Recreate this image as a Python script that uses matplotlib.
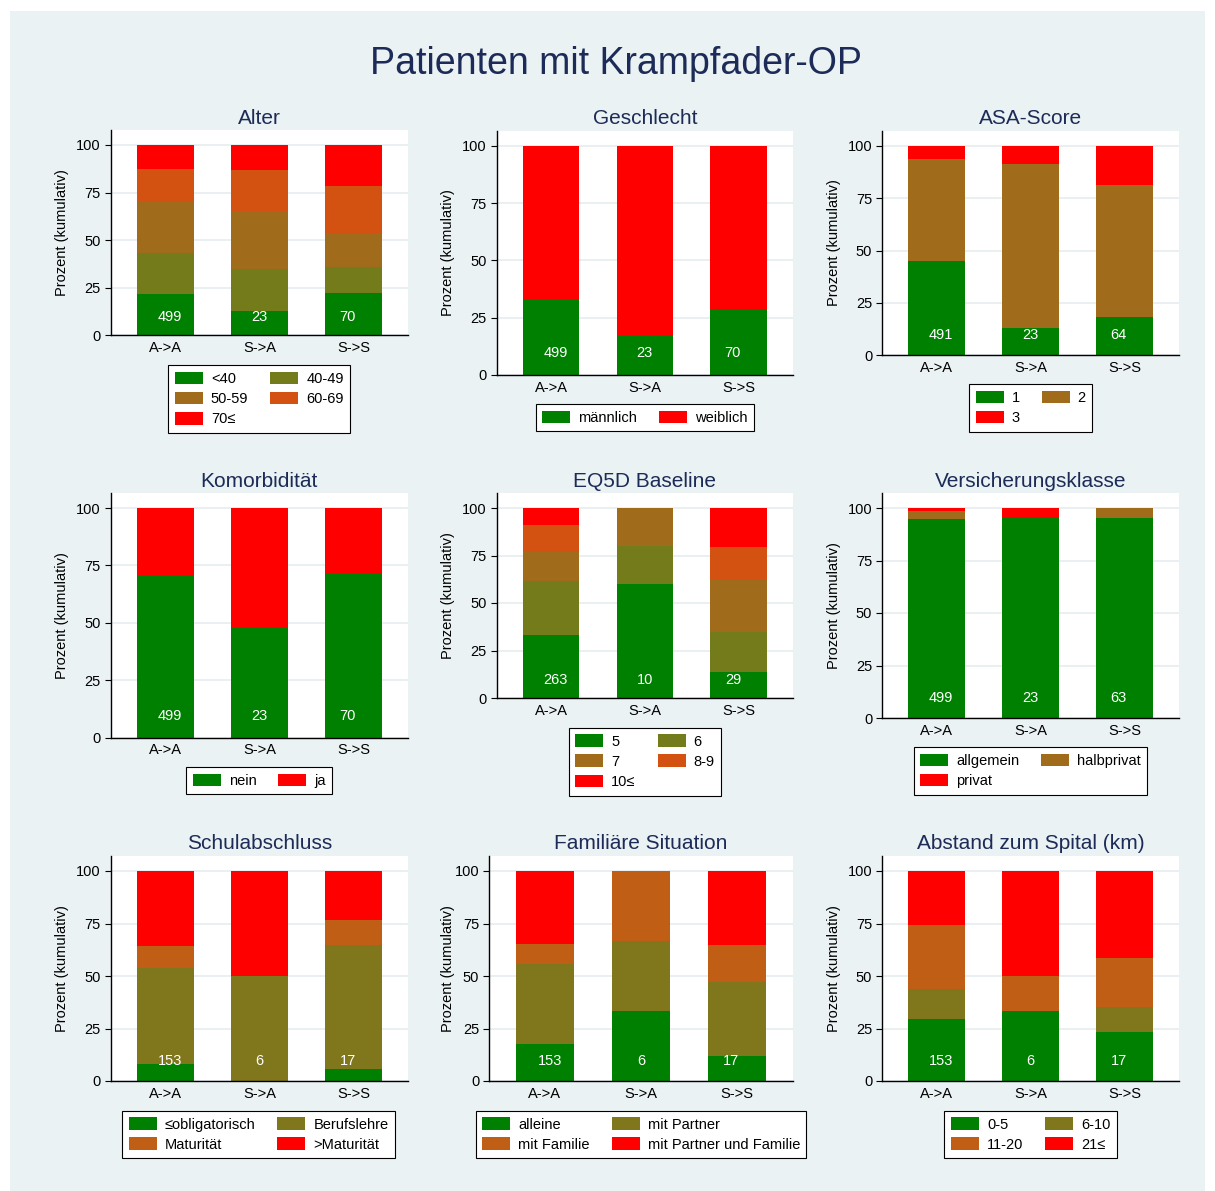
import matplotlib
matplotlib.use('Agg')
import matplotlib.pyplot as plt
from matplotlib.patches import Rectangle
import numpy as np

plt.rcParams['font.family'] = ['Liberation Sans', 'DejaVu Sans']

# ---------------- data ----------------
groups = ['A->A', 'S->A', 'S->S']

alter_labels = ['<40', '40-49', '50-59', '60-69', '70≤']
alter_pct = [[21.8, 13.0, 22.3], [21.4, 21.8, 13.4], [27.3, 30.4, 18.1],
             [16.7, 21.8, 24.4], [12.8, 13.0, 21.8]]
alter_n = [499, 23, 70]

geschlecht_labels = ['männlich', 'weiblich']
geschlecht_pct = [[33.1, 17.4, 28.6], [66.9, 82.6, 71.4]]
geschlecht_n = [499, 23, 70]

asa_labels = ['1', '2', '3']
asa_pct = [[44.9, 13.0, 18.3], [48.6, 78.3, 62.8], [6.5, 8.7, 18.9]]
asa_n = [491, 23, 64]

komorb_labels = ['nein', 'ja']
komorb_pct = [[70.9, 47.8, 71.4], [29.1, 52.2, 28.6]]
komorb_n = [499, 23, 70]

eq5d_labels = ['5', '6', '7', '8-9', '10≤']
eq5d_pct = [[33.2, 60.0, 13.8], [28.4, 20.0, 20.7], [15.2, 20.0, 27.6],
            [14.1, 0.0, 17.2], [9.1, 0.0, 20.7]]
eq5d_n = [263, 10, 29]

versich_labels = ['allgemein', 'halbprivat', 'privat']
versich_pct = [[94.9, 95.7, 95.2], [3.8, 0.0, 4.8], [1.3, 4.3, 0.0]]
versich_n = [499, 23, 63]

schul_labels = ['≤obligatorisch', 'Berufslehre', 'Maturität', '>Maturität']
schul_pct = [[8.1, 0.0, 5.9], [45.9, 50.0, 58.8], [10.3, 0.0, 11.8], [35.7, 50.0, 23.5]]
schul_n = [153, 6, 17]

familie_labels = ['alleine', 'mit Partner', 'mit Familie', 'mit Partner und Familie']
familie_pct = [[17.5, 33.3, 11.8], [38.4, 33.3, 35.3], [9.3, 33.4, 17.6], [34.8, 0.0, 35.3]]
familie_n = [153, 6, 17]

abstand_labels = ['0-5', '6-10', '11-20', '21≤']
abstand_pct = [[29.5, 33.3, 23.5], [14.3, 0.0, 11.8], [30.5, 16.7, 23.5], [25.7, 50.0, 41.2]]
abstand_n = [153, 6, 17]

titles = ['Alter', 'Geschlecht', 'ASA-Score', 'Komorbidität', 'EQ5D Baseline',
          'Versicherungsklasse', 'Schulabschluss', 'Familiäre Situation',
          'Abstand zum Spital (km)']

# ---------------- style ----------------
W, H = 1215, 1191
navy = '#1C2B57'
bg = '#EAF2F3'
pal = {
    2: ['#008000', '#FF0000'],
    3: ['#008000', '#A06C1C', '#FF0000'],
    4: ['#008000', '#80761C', '#C05E16', '#FF0000'],
    5: ['#008000', '#737B1B', '#A06C1C', '#D35212', '#FF0000'],
}

# layout in pixels: left, right, top, bottom of plot region
geom = [
    (110.7, 408, 130, 335.3), (496.7, 793, 130.7, 375), (882, 1179, 130.7, 355.3),
    (110.7, 408, 493, 737.7), (496.7, 793, 493, 698), (882, 1179, 493, 718),
    (110.7, 408, 856, 1081), (489, 793, 856, 1081), (882, 1179, 856, 1081),
]
title_base = [123.5, 123.5, 123.5, 486.7, 486.7, 486.7, 849.3, 849.3, 849.3]
ylab_x = [61.7, 448, 834] * 3
leg_pos = [(259.3, 365), (645, 404), (1030.7, 384),
           (259.2, 767), (645, 727.7), (1030.5, 747),
           (258.5, 1110.7), (641, 1110.7), (1030.8, 1110.7)]

panels = [
    (alter_labels, alter_pct, alter_n),
    (geschlecht_labels, geschlecht_pct, geschlecht_n),
    (asa_labels, asa_pct, asa_n),
    (komorb_labels, komorb_pct, komorb_n),
    (eq5d_labels, eq5d_pct, eq5d_n),
    (versich_labels, versich_pct, versich_n),
    (schul_labels, schul_pct, schul_n),
    (familie_labels, familie_pct, familie_n),
    (abstand_labels, abstand_pct, abstand_n),
]

fig = plt.figure(figsize=(W / 100, H / 100), dpi=100)
fig.patch.set_facecolor('white')
fig.add_artist(Rectangle((10 / W, 0), 1195 / W, 1 - 11 / H, transform=fig.transFigure,
                         facecolor=bg, edgecolor='none', zorder=-10))

fig.text(616 / W, 1 - 74.3 / H, 'Patienten mit Krampfader-OP', ha='center',
         va='baseline', fontsize=27, color=navy)

x = np.arange(len(groups))
lab_off = [0.05, 0.0, -0.06]

for p, (labels, pct, ns) in enumerate(panels):
    l, r, t, b = geom[p]
    ax = fig.add_axes([l / W, 1 - b / H, (r - l) / W, (b - t) / H])
    ax.set_facecolor('white')
    hpx = b - t
    ax.set_ylim(0, 100 * hpx / (hpx - 15))
    ax.set_xlim(-0.581, 2.581)
    ax.set_yticks([0, 25, 50, 75, 100])
    ax.yaxis.grid(True, color='#E6EEF0', lw=1.2)
    ax.set_axisbelow(True)
    cols = pal[len(labels)]
    bottoms = np.zeros(len(groups))
    handles = []
    for k, lab in enumerate(labels):
        vals = np.array(pct[k])
        c = ax.bar(x, vals, 0.6, bottom=bottoms, color=cols[k], linewidth=0,
                   label=lab, zorder=2)
        handles.append(c)
        bottoms = bottoms + vals
    for i, n in enumerate(ns):
        ax.text(i + lab_off[i], 9.5, str(n), color='white', ha='center',
                va='center', fontsize=10.5, zorder=3)
    ax.set_xticks(x)
    ax.set_xticklabels(groups)
    for s in ['top', 'right']:
        ax.spines[s].set_visible(False)
    for s in ['left', 'bottom']:
        ax.spines[s].set_color('black')
        ax.spines[s].set_linewidth(1.0)
    ax.tick_params(axis='y', length=4, width=0.8, pad=3, labelsize=10.5, colors='black')
    ax.tick_params(axis='x', length=0, pad=4, labelsize=10.5, colors='black')
    ax.set_ylabel('Prozent (kumulativ)', fontsize=10.5, va='center')
    ax.yaxis.set_label_coords((ylab_x[p] - l) / (r - l), 0.5)
    fig.text(((l + r) / 2) / W, 1 - title_base[p] / H, titles[p], ha='center',
             va='baseline', fontsize=15, color=navy)
    idx = list(range(len(labels)))
    order = idx[0::2] + idx[1::2]
    lx, ly = leg_pos[p]
    leg = ax.legend([handles[i] for i in order], [labels[i] for i in order], ncol=2,
                    loc='upper center', bbox_to_anchor=(lx / W, 1 - ly / H),
                    bbox_transform=fig.transFigure, fontsize=10.5, frameon=True,
                    fancybox=False, edgecolor='black', borderpad=0.45,
                    labelspacing=0.4, handlelength=1.92, handleheight=0.96,
                    handletextpad=0.55, columnspacing=1.5, borderaxespad=0)
    leg.get_frame().set_linewidth(0.8)
    leg.get_frame().set_facecolor('white')
    leg.get_frame().set_alpha(1)

fig.savefig('out.png', dpi=100, facecolor=fig.get_facecolor())
